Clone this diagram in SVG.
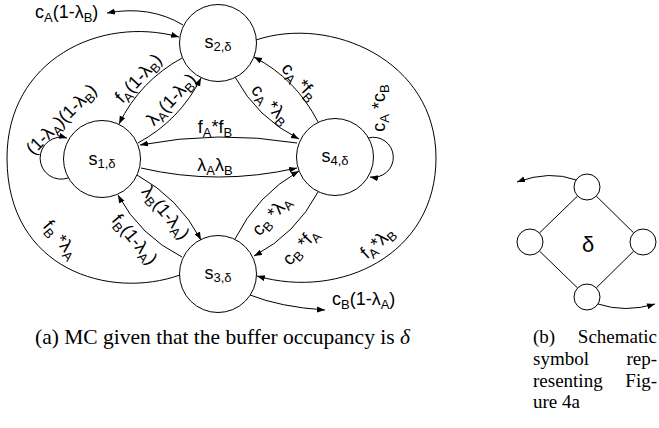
<svg xmlns="http://www.w3.org/2000/svg" width="659" height="428" viewBox="0 0 659 428">
<defs>
<marker id="ah" markerUnits="userSpaceOnUse" markerWidth="10" markerHeight="8" refX="8" refY="3" orient="auto">
<path d="M0,0 L8,3 L0,6 z" fill="#000"/>
</marker>
<style>
.n{fill:#fff;stroke:#000;stroke-width:1}
.e{fill:none;stroke:#000;stroke-width:1;marker-end:url(#ah)}
.l{fill:none;stroke:#000;stroke-width:1}
.t{font-family:"Liberation Sans",Arial,sans-serif;font-size:18px;fill:#000}
.c{font-family:"Liberation Serif","Times New Roman",serif;font-size:19px;fill:#000}
.s{font-size:13px}
</style>
</defs>
<rect width="659" height="428" fill="#fff"/>

<g id="connectors">
<path class="e" d="M180,275 C110,300 7,270 7,158 C7,60 100,15 179,37"/>
<path class="e" d="M256,40 C330,15 436,60 436,158 C436,255 340,300 257,276"/>
<path class="e" d="M182,58 Q140,81 119,124"/>
<path class="e" d="M138,143 Q180,120 201,78"/>
<path class="e" d="M235,77 Q257,118 299,139"/>
<path class="e" d="M318,122 Q296,79 254,57"/>
<path class="e" d="M297,143 Q218,130 140,145"/>
<path class="e" d="M141,168 Q218,186 297,168"/>
<path class="e" d="M137,175 Q179,198 201,240"/>
<path class="e" d="M182,257 Q140,236 118,195"/>
<path class="e" d="M235,239 Q257,195 299,171"/>
<path class="e" d="M318,192 Q296,234 254,256"/>
<path class="e" d="M68,178 A21,21 0 1,1 67,138"/>
<path class="e" d="M368,138 A20,20 0 1,1 370,177"/>
<path class="e" d="M183,25 Q150,5 107,13"/>
<path class="e" d="M250,295 Q280,307 325,310"/>
</g>

<g id="edge-labels" class="t">
<text x="35" y="18">c<tspan class="s" dy="4">A</tspan><tspan dy="-4">(1-λ</tspan><tspan class="s" dy="4">B</tspan><tspan dy="-4">)</tspan></text>
<text x="332" y="305">c<tspan class="s" dy="4">B</tspan><tspan dy="-4">(1-λ</tspan><tspan class="s" dy="4">A</tspan><tspan dy="-4">)</tspan></text>
<text text-anchor="middle" transform="translate(139,79) rotate(-47)" y="5">f<tspan class="s" dy="4">A</tspan><tspan dy="-4">(1-λ</tspan><tspan class="s" dy="4">B</tspan><tspan dy="-4">)</tspan></text>
<text text-anchor="middle" transform="translate(172,100) rotate(-47)" y="5">λ<tspan class="s" dy="4">A</tspan><tspan dy="-4">(1-λ</tspan><tspan class="s" dy="4">B</tspan><tspan dy="-4">)</tspan></text>
<text text-anchor="middle" transform="translate(62,120) rotate(-45)" y="5">(1-λ<tspan class="s" dy="4">A</tspan><tspan dy="-4">)(1-λ</tspan><tspan class="s" dy="4">B</tspan><tspan dy="-4">)</tspan></text>
<text text-anchor="middle" transform="translate(270,105) rotate(47)" y="5">c<tspan class="s" dy="4">A</tspan><tspan dy="-4"> *λ</tspan><tspan class="s" dy="4">B</tspan></text>
<text text-anchor="middle" transform="translate(299,82) rotate(47)" y="5">c<tspan class="s" dy="4">A</tspan><tspan dy="-4"> *f</tspan><tspan class="s" dy="4">B</tspan></text>
<text text-anchor="middle" transform="translate(380,108) rotate(-90)" y="5">c<tspan class="s" dy="4">A</tspan><tspan dy="-4"> *c</tspan><tspan class="s" dy="4">B</tspan></text>
<text text-anchor="middle" x="215" y="133">f<tspan class="s" dy="4">A</tspan><tspan dy="-4">*f</tspan><tspan class="s" dy="4">B</tspan></text>
<text text-anchor="middle" x="215" y="171">λ<tspan class="s" dy="4">A</tspan><tspan dy="-4">λ</tspan><tspan class="s" dy="4">B</tspan></text>
<text text-anchor="middle" transform="translate(165,213) rotate(50)" y="5">λ<tspan class="s" dy="4">B</tspan><tspan dy="-4">(1-λ</tspan><tspan class="s" dy="4">A</tspan><tspan dy="-4">)</tspan></text>
<text text-anchor="middle" transform="translate(134,240) rotate(50)" y="5">f<tspan class="s" dy="4">B</tspan><tspan dy="-4">(1-λ</tspan><tspan class="s" dy="4">A</tspan><tspan dy="-4">)</tspan></text>
<text text-anchor="middle" transform="translate(60,240) rotate(50)" y="5">f<tspan class="s" dy="4">B</tspan><tspan dy="-4"> *λ</tspan><tspan class="s" dy="4">A</tspan></text>
<text text-anchor="middle" transform="translate(272,216) rotate(-47)" y="5">c<tspan class="s" dy="4">B</tspan><tspan dy="-4"> *λ</tspan><tspan class="s" dy="4">A</tspan></text>
<text text-anchor="middle" transform="translate(301,247) rotate(-47)" y="5">c<tspan class="s" dy="4">B</tspan><tspan dy="-4"> *f</tspan><tspan class="s" dy="4">A</tspan></text>
<text text-anchor="middle" transform="translate(378,243) rotate(-42)" y="5">f<tspan class="s" dy="4">A</tspan><tspan dy="-4">*λ</tspan><tspan class="s" dy="4">B</tspan></text>
</g>

<g id="s1">
<circle class="n" cx="102" cy="159" r="38.5"/>
<text class="t" text-anchor="middle" x="102" y="165">s<tspan class="s" dy="3">1,δ</tspan></text>
</g>
<g id="s2">
<circle class="n" cx="218" cy="43" r="38.5"/>
<text class="t" text-anchor="middle" x="218" y="48">s<tspan class="s" dy="3">2,δ</tspan></text>
</g>
<g id="s3">
<circle class="n" cx="218" cy="274" r="38.5"/>
<text class="t" text-anchor="middle" x="218" y="279">s<tspan class="s" dy="3">3,δ</tspan></text>
</g>
<g id="s4">
<circle class="n" cx="335" cy="157" r="38.5"/>
<text class="t" text-anchor="middle" x="335" y="162">s<tspan class="s" dy="3">4,δ</tspan></text>
</g>

<g id="schematic">
<line class="l" x1="577.6" y1="196" x2="539.4" y2="233"/>
<line class="l" x1="596.3" y1="196.1" x2="633.7" y2="232.9"/>
<line class="l" x1="539.4" y1="251" x2="577.6" y2="288"/>
<line class="l" x1="633.7" y1="251.1" x2="596.3" y2="287.9"/>
<circle class="n" cx="587" cy="187" r="13"/>
<circle class="n" cx="530" cy="242" r="13"/>
<circle class="n" cx="643" cy="242" r="13"/>
<circle class="n" cx="587" cy="297" r="13"/>
<text class="t" style="font-size:22px" text-anchor="middle" x="588" y="252">δ</text>
<path class="e" d="M576,180 Q550,170 517,182"/>
<path class="e" d="M598,304 Q625,313 655,304"/>
</g>

<g id="captions" class="c">
<text x="35" y="344" style="font-size:21.5px">(a) MC given that the buffer occupancy is <tspan font-style="italic">δ</tspan></text>
<text x="533" y="343">(b)</text>
<text x="657" y="343" text-anchor="end">Schematic</text>
<text x="533" y="365">symbol</text>
<text x="657" y="365" text-anchor="end">rep-</text>
<text x="533" y="387">resenting</text>
<text x="657" y="387" text-anchor="end">Fig-</text>
<text x="533" y="408">ure 4a</text>
</g>
</svg>
